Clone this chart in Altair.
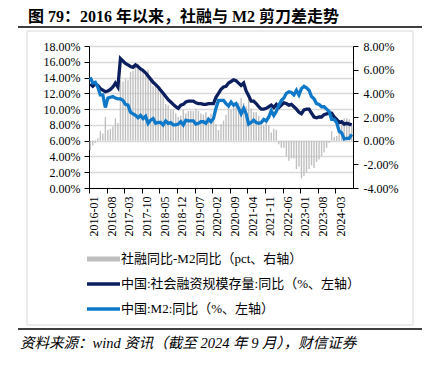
import altair as alt
import pandas as pd

# ---------------- data ----------------
months = [f"{y}-{m:02d}" for y in range(2016, 2025) for m in range(1, 13)][:105]

tick_labels = ["2016-01", "2016-08", "2017-03", "2017-10", "2018-05", "2018-12",
               "2019-07", "2020-02", "2020-09", "2021-04", "2021-11", "2022-06",
               "2023-01", "2023-08", "2024-03"]

# 中国:社会融资规模存量:同比 (%)
tsf_yoy = [
    13.2, 12.9, 13.2, 13.0, 12.6, 12.4, 12.2, 12.3, 12.5, 12.8, 13.3, 12.8,   # 2016
    16.4, 16.1, 15.8, 15.6, 15.4, 15.3, 15.6, 15.4, 15.1, 14.9, 14.6, 14.2,   # 2017
    13.8, 13.4, 13.1, 12.8, 12.4, 12.0, 11.6, 11.2, 10.9, 10.6, 10.3, 10.1,   # 2018
    10.5, 10.6, 10.9, 11.0, 11.0, 11.0, 10.8, 10.7, 10.7, 10.6, 10.6, 10.7,   # 2019
    10.7, 10.7, 11.5, 12.0, 12.5, 12.8, 12.9, 13.3, 13.5, 13.7, 13.6, 13.3,   # 2020
    13.0, 13.3, 12.3, 11.7, 11.0, 11.0, 10.7, 10.3, 10.0, 10.0, 10.1, 10.3,   # 2021
    10.5, 10.2, 10.6, 10.2, 10.5, 10.8, 10.7, 10.5, 10.6, 10.3, 10.0, 9.6,    # 2022
    9.4, 9.9, 10.0, 10.0, 9.5, 9.0, 8.9, 9.0, 9.0, 9.3, 9.4, 9.5,             # 2023
    9.5, 9.0, 8.7, 8.3, 8.4, 8.1, 8.2, 8.1, 8.0,                              # 2024
]

# 中国:M2:同比 (%)
m2_yoy = [
    14.0, 13.3, 13.4, 12.8, 11.8, 11.8, 10.2, 11.4, 11.5, 11.6, 11.4, 11.3,   # 2016
    11.3, 11.1, 10.6, 10.5, 9.6, 9.4, 9.2, 8.9, 9.2, 8.8, 9.1, 8.2,           # 2017
    8.6, 8.8, 8.2, 8.3, 8.3, 8.0, 8.5, 8.2, 8.3, 8.0, 8.0, 8.1,               # 2018
    8.4, 8.0, 8.6, 8.5, 8.5, 8.5, 8.1, 8.2, 8.4, 8.4, 8.2, 8.7,               # 2019
    8.4, 8.8, 10.1, 11.1, 11.1, 11.1, 10.7, 10.4, 10.9, 10.5, 10.7, 10.1,     # 2020
    9.4, 10.1, 9.4, 8.1, 8.3, 8.6, 8.3, 8.2, 8.3, 8.7, 8.5, 9.0,              # 2021
    9.8, 9.2, 9.7, 10.5, 11.1, 11.4, 12.0, 12.2, 12.1, 11.8, 12.4, 11.8,     # 2022
    12.6, 12.9, 12.7, 12.4, 11.6, 11.3, 10.7, 10.6, 10.3, 10.3, 10.0, 9.7,   # 2023
    8.7, 8.7, 8.3, 7.2, 7.0, 6.2, 6.3, 6.3, 6.8,                              # 2024
]

# 社融同比-M2同比 (pct)
spread = [
    -0.8, -0.4, -0.2, 0.2, 0.8, 0.6, 2.0, 0.9, 1.0, 1.2, 1.9, 1.5,            # 2016
    5.1, 5.0, 5.2, 5.1, 5.8, 5.9, 6.4, 6.5, 5.9, 6.1, 5.5, 6.0,               # 2017
    5.2, 4.6, 4.9, 4.5, 4.1, 4.0, 3.1, 3.0, 2.6, 2.6, 2.3, 2.0,               # 2018
    2.1, 2.6, 2.3, 2.5, 2.5, 2.5, 2.7, 2.5, 2.3, 2.2, 2.4, 2.0,               # 2019
    2.3, 1.9, 1.4, 0.9, 1.4, 1.7, 2.2, 2.9, 2.6, 3.2, 2.9, 3.2,               # 2020
    3.6, 3.2, 2.9, 3.6, 2.7, 2.4, 2.4, 2.1, 1.7, 1.3, 1.6, 1.3,               # 2021
    0.7, 1.0, 0.9, -0.3, -0.6, -0.6, -1.3, -1.7, -1.5, -1.5, -2.4, -2.2,      # 2022
    -3.2, -3.0, -2.7, -2.4, -2.1, -2.3, -1.8, -1.6, -1.3, -1.0, -0.6, -0.2,   # 2023
    0.8, 0.3, 0.4, 1.1, 1.4, 1.9, 1.9, 1.8, 1.2,                              # 2024
]

series_names = ["社融同比-M2同比（pct、右轴）",
                "中国:社会融资规模存量:同比（%、左轴）",
                "中国:M2:同比（%、左轴）"]
colors = ["#BFBFBF", "#0C1F5E", "#0F78C9"]

title_text = "图 79：2016 年以来，社融与 M2 剪刀差走势"
source_text = "资料来源：wind 资讯（截至 2024 年 9 月），财信证券"

# ---------------- tables ----------------
df = pd.DataFrame({"month": months, "tsf": tsf_yoy, "m2": m2_yoy, "spread": spread})
one = pd.DataFrame({"k": [0]})

SERIF = "Liberation Serif"
MIXED = "Liberation Serif, Noto Sans CJK SC"

x_enc = alt.X(
    "month:N",
    sort=months,
    scale=alt.Scale(domain=months, paddingInner=0.45, paddingOuter=0.225),
    axis=alt.Axis(values=tick_labels, labelAngle=270, bandPosition=0, labelOffset=4,
                  tickSize=5, tickColor="black", domainColor="black", domainWidth=1,
                  labelFont=SERIF, labelFontSize=12, labelColor="black",
                  labelPadding=3, title=None, grid=False),
)

left_axis = alt.Axis(orient="left", values=list(range(0, 19, 2)),
                     labelExpr="format(datum.value, '.2f') + '%'",
                     grid=True, gridColor="#D9D9D9", gridWidth=1.5,
                     tickSize=5, tickColor="black", domainColor="black",
                     labelFont=SERIF, labelFontSize=12, labelColor="black",
                     labelPadding=4, title=None)

right_axis = alt.Axis(orient="right", values=list(range(-4, 9, 2)),
                      labelExpr="(datum.value < 0 ? '-' : '') + format(abs(datum.value), '.2f') + '%'",
                      grid=False, tickSize=5, tickColor="black", domainColor="black",
                      labelFont=SERIF, labelFontSize=12, labelColor="black",
                      labelPadding=5, title=None)

bars = alt.Chart(df).mark_bar(color=colors[0]).encode(
    x=x_enc,
    y=alt.Y("spread:Q", scale=alt.Scale(domain=[-4, 8], nice=False, zero=False), axis=right_axis),
)

left_scale = alt.Scale(domain=[0, 18], nice=False)
tsf_line = alt.Chart(df).mark_line(color=colors[1], strokeWidth=3.3).encode(
    x=x_enc, y=alt.Y("tsf:Q", scale=left_scale, axis=left_axis))
m2_line = alt.Chart(df).mark_line(color=colors[2], strokeWidth=3.3).encode(
    x=x_enc, y=alt.Y("m2:Q", scale=left_scale, axis=left_axis))
lines = alt.layer(tsf_line, m2_line)

# ---------------- decorations (title, frame, legend, source) ----------------
frame = alt.Chart(one).mark_rect(fillOpacity=0, stroke="#D9D9D9", strokeWidth=1).encode(
    x=alt.value(-62), x2=alt.value(324), y=alt.value(-15), y2=alt.value(279))

title = alt.Chart(one).mark_text(text=title_text, align="left", baseline="middle",
                                 font=MIXED, fontSize=16, fontWeight="bold", color="black").encode(
    x=alt.value(-61), y=alt.value(-29))
title_rule = alt.Chart(one).mark_rule(color="black", strokeWidth=1.5).encode(
    x=alt.value(-71), x2=alt.value(333), y=alt.value(-19))
source_rule = alt.Chart(one).mark_rule(color="black", strokeWidth=1.5).encode(
    x=alt.value(-71), x2=alt.value(333), y=alt.value(283))
source = alt.Chart(one).mark_text(text=source_text, align="left", baseline="middle",
                                  font=MIXED, fontSize=14.5, fontStyle="italic", color="black").encode(
    x=alt.value(-69), y=alt.value(298))

legend_rows = [213, 238, 263]
legend_widths = [5, 3.5, 3.5]
legend_layers = []
for name, col, ly, lw in zip(series_names, colors, legend_rows, legend_widths):
    legend_layers.append(alt.Chart(one).mark_rule(color=col, strokeWidth=lw).encode(
        x=alt.value(-2), x2=alt.value(31), y=alt.value(ly)))
    legend_layers.append(alt.Chart(one).mark_text(text=name, align="left", baseline="middle",
                                                  font=MIXED, fontSize=13, color="black").encode(
        x=alt.value(32), y=alt.value(ly)))

chart = alt.layer(
    frame, bars, lines, title, title_rule, source_rule, source, *legend_layers
).resolve_scale(y="independent").properties(
    width=264, height=142,
    autosize=alt.AutoSizeParams(type="none"),
    padding={"left": 81, "top": 38, "right": 69, "bottom": 168},
).configure_view(stroke=None).configure(background="white")

chart.save("out.html", embed_options={"renderer": "svg", "actions": False})
